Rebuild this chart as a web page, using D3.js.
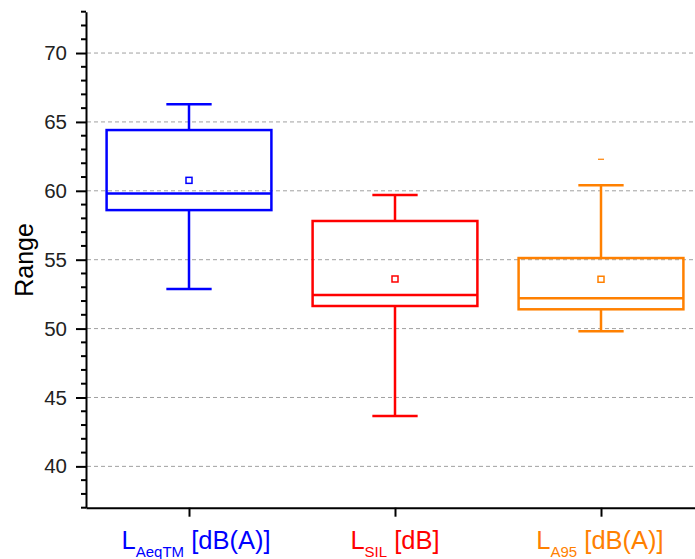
<!DOCTYPE html>
<html><head><meta charset="utf-8">
<script src="https://cdn.jsdelivr.net/npm/d3@7"></script>
<style>body{margin:0;background:#fff}svg{display:block}</style>
</head><body>
<script>
const categories = ["AeqTM","SIL","A95"];
const units = [" [dB(A)]"," [dB]"," [dB(A)]"];
const colors = ["#0000FF","#FF0000","#FF8000"];
const whiskerLow  = [52.87, 43.66, 49.8];
const q1          = [58.6, 51.64, 51.4];
const median      = [59.8, 52.44, 52.2];
const q3          = [64.41, 57.81, 55.12];
const whiskerHigh = [66.28, 59.7, 60.4];
const means       = [60.76, 53.6, 53.58];
const maxMarks    = [null, null, 62.29];
const yTicks = [40,45,50,55,60,65,70];

const W=695,H=559;
const labelShift=[7,0,-1];
const svg=d3.select("body").append("svg").attr("width",W).attr("height",H);
const y=d3.scaleLinear().domain([37,73]).range([507.7,11.7]);
const x=d3.scaleLinear().domain([0.5,3.5]).range([86,704]);
const font="Liberation Sans, Arial, sans-serif";

// grid
svg.append("g").selectAll("line").data(yTicks).join("line")
  .attr("x1",87).attr("x2",W).attr("y1",d=>y(d)).attr("y2",d=>y(d))
  .attr("stroke","#a0a0a0").attr("stroke-width",1).attr("stroke-dasharray","4,3");

// y axis
const yAxis=d3.axisLeft(y).tickValues(yTicks).tickSize(10).tickPadding(9).tickSizeOuter(0);
const gy=svg.append("g").attr("transform","translate(86,0)").call(yAxis);
gy.select(".domain").attr("stroke","#000").attr("stroke-width",2);
gy.selectAll(".tick line").attr("stroke","#000").attr("stroke-width",2);
gy.selectAll(".tick text").attr("font-family",font).attr("font-size",20.5).attr("fill","#222");
const minor=d3.range(37,74).filter(v=>v%5!==0);
gy.append("g").selectAll("line").data(minor).join("line")
  .attr("x1",-5).attr("x2",0).attr("y1",d=>y(d)).attr("y2",d=>y(d))
  .attr("stroke","#000").attr("stroke-width",2);

// x axis
const xAxis=d3.axisBottom(x).tickValues([1,2,3]).tickSize(9).tickFormat("").tickSizeOuter(0);
const gx=svg.append("g").attr("transform","translate(0,507.7)").call(xAxis);
gx.select(".domain").attr("stroke","#000").attr("stroke-width",2);
gx.selectAll(".tick line").attr("stroke","#000").attr("stroke-width",2);

// y label
svg.append("text").attr("transform","translate(33,260) rotate(-90)")
  .attr("text-anchor","middle").attr("font-family",font).attr("font-size",25).attr("fill","#000").text("Range");

// boxes
const bw=0.8, cw=0.11;
categories.forEach((c,i)=>{
  const cx=x(i+1), col=colors[i];
  const g=svg.append("g").attr("stroke",col).attr("stroke-width",2.5).attr("fill","none");
  g.append("line").attr("x1",cx).attr("x2",cx).attr("y1",y(whiskerHigh[i])).attr("y2",y(q3[i]));
  g.append("line").attr("x1",cx).attr("x2",cx).attr("y1",y(q1[i])).attr("y2",y(whiskerLow[i]));
  g.append("line").attr("x1",x(i+1-cw)).attr("x2",x(i+1+cw)).attr("y1",y(whiskerHigh[i])).attr("y2",y(whiskerHigh[i]));
  g.append("line").attr("x1",x(i+1-cw)).attr("x2",x(i+1+cw)).attr("y1",y(whiskerLow[i])).attr("y2",y(whiskerLow[i]));
  g.append("rect").attr("x",x(i+1-bw/2)).attr("width",x(i+1+bw/2)-x(i+1-bw/2))
    .attr("y",y(q3[i])).attr("height",y(q1[i])-y(q3[i]));
  g.append("line").attr("x1",x(i+1-bw/2)).attr("x2",x(i+1+bw/2)).attr("y1",y(median[i])).attr("y2",y(median[i]));
  g.append("rect").attr("x",cx-3).attr("y",y(means[i])-3).attr("width",6).attr("height",6)
    .attr("fill","#fff").attr("stroke-width",1.5);
  if(maxMarks[i]!=null){
    g.append("line").attr("x1",cx-3).attr("x2",cx+3).attr("y1",y(maxMarks[i])).attr("y2",y(maxMarks[i])).attr("stroke-width",1.2);
  }
  const t=svg.append("text").attr("x",cx+labelShift[i]).attr("y",549).attr("text-anchor","middle")
    .attr("font-family",font).attr("font-size",25.5).attr("fill",col);
  t.append("tspan").text("L");
  t.append("tspan").attr("font-size",15).attr("dy",8).text(c);
  t.append("tspan").attr("dy",-8).text(units[i]);
});
</script>
</body></html>
